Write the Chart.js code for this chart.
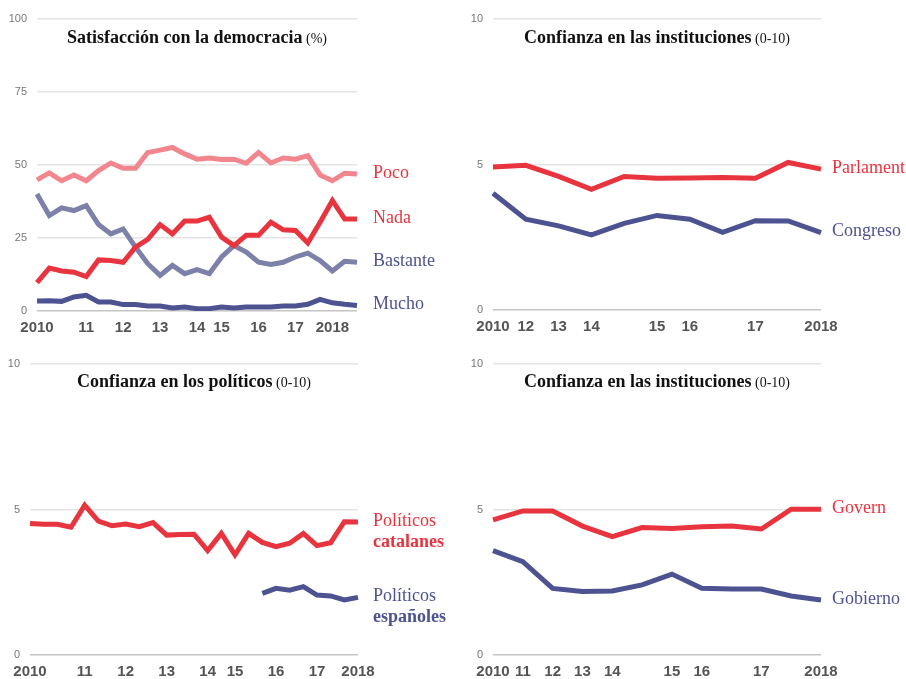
<!DOCTYPE html>
<html>
<head>
<meta charset="utf-8">
<script src="https://cdn.jsdelivr.net/npm/chart.js@4.4.1/dist/chart.umd.min.js"></script>
<style>
  html, body { margin:0; padding:0; background:#fff; }
  #wrap { position:relative; width:906px; height:679px; overflow:hidden; }
  canvas { position:absolute; }
</style>
</head>
<body>
<div id="wrap">
  <canvas id="c1" width="453" height="340" style="left:0;top:0"></canvas>
  <canvas id="c2" width="453" height="340" style="left:453px;top:0"></canvas>
  <canvas id="c3" width="453" height="339" style="left:0;top:340px"></canvas>
  <canvas id="c4" width="453" height="339" style="left:453px;top:340px"></canvas>
</div>
<script>
// colores
const RED = '#e8343e', PINK = '#f2868e', GREY = '#7d81aa', NAVY = '#4d5291';

// --- Satisfacción con la democracia (%) ---
const demoTicks = ['2010','','','','11','','','12','','','13','','','14','','15','','','16','','','17','','','2018','',''];
const poco     = [44.9,47.3,44.6,46.6,44.6,48.1,50.7,48.9,48.9,54.3,55.1,56.0,53.8,52.0,52.4,51.9,52.0,50.6,54.3,50.7,52.4,52.0,53.2,46.6,44.6,47.2,46.9];
const nada     = [9.7,14.7,13.7,13.3,11.8,17.5,17.3,16.7,21.9,24.5,29.6,26.4,30.8,30.8,32.1,25.3,22.4,25.9,25.9,30.4,27.8,27.6,23.3,30.4,37.8,31.5,31.5];
const bastante = [40.1,32.7,35.3,34.4,36.1,29.6,26.4,28.1,21.9,16.2,12.2,15.6,12.8,14.2,12.8,18.5,22.4,20.2,16.7,15.9,16.7,18.5,19.8,17.3,13.7,17.0,16.7];
const mucho    = [3.4,3.5,3.3,4.8,5.4,3.1,3.1,2.2,2.2,1.7,1.7,1.0,1.4,0.8,0.8,1.4,1.0,1.4,1.4,1.4,1.7,1.7,2.3,4.0,2.8,2.3,1.9];

// --- Confianza en las instituciones (Parlament / Congreso) ---
const parlTicks = ['2010','12','13','14','','15','16','','17','','2018'];
const parlament = [4.91,4.97,4.59,4.15,4.59,4.53,4.54,4.55,4.53,5.07,4.84];
const congreso  = [4.01,3.12,2.89,2.58,2.98,3.25,3.12,2.67,3.07,3.06,2.66];

// --- Confianza en los políticos ---
const polTicks = ['2010','','','','11','','','12','','','13','','','14','','15','','','16','','','17','','','2018'];
const polCat = [4.52,4.49,4.49,4.39,5.15,4.60,4.44,4.50,4.41,4.55,4.12,4.14,4.15,3.59,4.18,3.44,4.18,3.87,3.72,3.84,4.18,3.76,3.86,4.58,4.57];
const polEsp = [null,null,null,null,null,null,null,null,null,null,null,null,null,null,null,null,null,2.12,2.29,2.23,2.35,2.06,2.03,1.89,1.98];

// --- Confianza en las instituciones (Govern / Gobierno) ---
const govTicks = ['2010','11','12','13','14','','15','16','','17','','2018'];
const govern   = [4.64,4.95,4.95,4.43,4.07,4.38,4.35,4.41,4.43,4.33,5.01,5.01];
const gobierno = [3.59,3.21,2.29,2.18,2.20,2.41,2.78,2.29,2.27,2.27,2.03,1.89];

const SANS = '"Liberation Sans", Arial, sans-serif';
const SERIF = '"Liberation Serif", "Times New Roman", serif';

// título + etiquetas de series
const decor = {
  id: 'decor',
  afterDatasetsDraw(chart, args, o) {
    const { ctx, chartArea: a } = chart;
    ctx.save();
    // título
    ctx.textBaseline = 'alphabetic';
    ctx.font = 'bold 18px ' + SERIF;
    const w1 = ctx.measureText(o.title).width;
    ctx.font = '14px ' + SERIF;
    const w2 = ctx.measureText(' ' + o.unit).width;
    let x = (a.left + a.right) / 2 - (w1 + w2) / 2;
    const y = a.top + o.titleY;
    ctx.fillStyle = '#111';
    ctx.font = 'bold 18px ' + SERIF;
    ctx.textAlign = 'left';
    ctx.fillText(o.title, x, y);
    ctx.font = '14px ' + SERIF;
    ctx.fillText(' ' + o.unit, x + w1, y);
    // etiquetas al final de cada línea
    ctx.textBaseline = 'middle';
    chart.data.datasets.forEach((ds, i) => {
      const pts = chart.getDatasetMeta(i).data;
      let last = null;
      for (let k = ds.data.length - 1; k >= 0; k--) if (ds.data[k] != null) { last = pts[k]; break; }
      if (!last) return;
      ds.tag.forEach((ln, j) => {
        ctx.fillStyle = ds.tagColor;
        ctx.font = (ln.bold ? 'bold ' : '') + '18px ' + SERIF;
        ctx.fillText(ln.t, a.right + o.labelDx, last.y - 1 + j * 21);
      });
    });
    ctx.restore();
  }
};

function makeChart(id, ticks, sets, cfg) {
  const cv = document.getElementById(id);
  return new Chart(cv, {
    type: 'line',
    data: {
      labels: ticks,
      datasets: sets.map(s => ({
        data: s.data, borderColor: s.color, borderWidth: 5, pointRadius: 0,
        tension: 0, fill: false, spanGaps: false, tag: s.tag, tagColor: s.tagColor
      }))
    },
    options: {
      responsive: false, animation: false, devicePixelRatio: 1,
      layout: { padding: { left: 0, top: cfg.top, right: cv.width - cfg.right, bottom: 0 } },
      plugins: {
        legend: { display: false }, tooltip: { enabled: false },
        decor: { title: cfg.title, unit: cfg.unit, titleY: cfg.titleY, labelDx: cfg.labelDx }
      },
      scales: {
        x: {
          grid: { display: false, drawTicks: false }, border: { display: false },
          ticks: { autoSkip: false, maxRotation: 0, padding: 8, color: '#555', font: { family: SANS, size: 15, weight: 'bold' } },
          afterFit: s => { s.height = cv.height - cfg.bottom; }
        },
        y: {
          min: 0, max: cfg.max,
          grid: { drawTicks: false, color: c => c.tick.value === 0 ? '#c4c4c4' : '#e4e4e4', lineWidth: 1.5 },
          border: { display: false },
          ticks: { stepSize: cfg.step, padding: 10, color: '#777', font: { family: SANS, size: 11 } },
          afterFit: s => { s.width = cfg.left; }
        }
      }
    },
    plugins: [decor]
  });
}

makeChart('c1', demoTicks, [
  { data: poco, color: PINK, tag: [{ t: 'Poco' }], tagColor: RED },
  { data: nada, color: RED, tag: [{ t: 'Nada' }], tagColor: RED },
  { data: bastante, color: GREY, tag: [{ t: 'Bastante' }], tagColor: NAVY },
  { data: mucho, color: NAVY, tag: [{ t: 'Mucho' }], tagColor: NAVY }
], { left: 37, right: 357, top: 19, bottom: 311, max: 100, step: 25,
     title: 'Satisfacción con la democracia', unit: '(%)', titleY: 24, labelDx: 16 });

makeChart('c2', parlTicks, [
  { data: parlament, color: RED, tag: [{ t: 'Parlament' }], tagColor: RED },
  { data: congreso, color: NAVY, tag: [{ t: 'Congreso' }], tagColor: NAVY }
], { left: 40, right: 368, top: 19, bottom: 310, max: 10, step: 5,
     title: 'Confianza en las instituciones', unit: '(0-10)', titleY: 24, labelDx: 11 });

makeChart('c3', polTicks, [
  { data: polCat, color: RED, tag: [{ t: 'Políticos' }, { t: 'catalanes', bold: true }], tagColor: RED },
  { data: polEsp, color: NAVY, tag: [{ t: 'Políticos' }, { t: 'españoles', bold: true }], tagColor: NAVY }
], { left: 30, right: 358, top: 24, bottom: 315, max: 10, step: 5,
     title: 'Confianza en los políticos', unit: '(0-10)', titleY: 23, labelDx: 15 });

makeChart('c4', govTicks, [
  { data: govern, color: RED, tag: [{ t: 'Govern' }], tagColor: RED },
  { data: gobierno, color: NAVY, tag: [{ t: 'Gobierno' }], tagColor: NAVY }
], { left: 40, right: 368, top: 24, bottom: 315, max: 10, step: 5,
     title: 'Confianza en las instituciones', unit: '(0-10)', titleY: 23, labelDx: 11 });
</script>
</body>
</html>
